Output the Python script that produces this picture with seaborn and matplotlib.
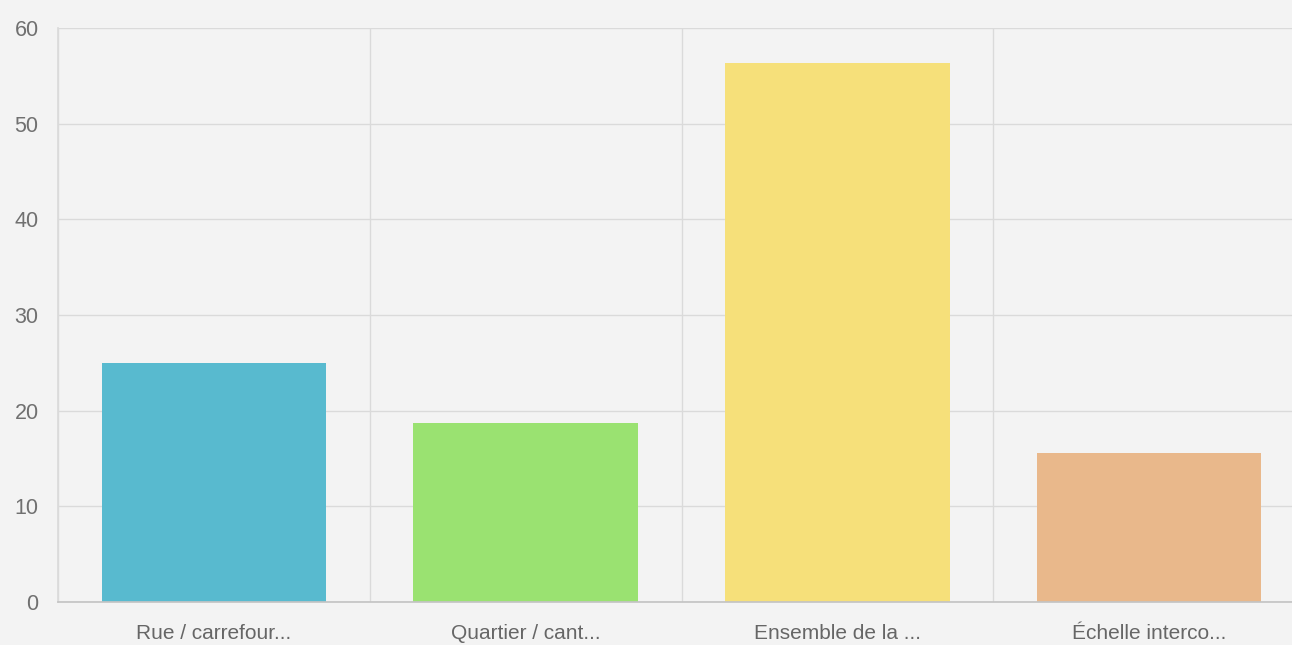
import matplotlib
matplotlib.use('Agg')
import matplotlib.pyplot as plt
import seaborn as sns
import pandas as pd
import numpy as np

# données
categories = ['Rue / carrefour...', 'Quartier / cant...', 'Ensemble de la ...', 'Échelle interco...']
valeurs = [25.0, 18.7, 56.3, 15.6]
couleurs = ['#58bacf', '#9ae271', '#f6e07a', '#e9b88b']
yticks = [0, 10, 20, 30, 40, 50, 60]

df = pd.DataFrame({'Categorie': categories, 'Valeur': valeurs})

sns.set_theme(style='white')
plt.rcParams['font.family'] = ['Liberation Sans', 'DejaVu Sans']

bg = '#f3f3f3'
grid = '#dadada'
txt = '#666666'

fig = plt.figure(figsize=(12.92, 6.45), dpi=100, facecolor=bg)
ax = fig.add_axes([58 / 1292, 43 / 645, (1305 - 58) / 1292, (602 - 28) / 645])
ax.set_facecolor(bg)

sns.barplot(data=df, x='Categorie', y='Valeur', hue='Categorie', palette=couleurs,
            width=0.72, saturation=1, legend=False, ax=ax, zorder=3, linewidth=0)

ax.set_xlim(-0.5, 3.5)
ax.set_ylim(0, 60)
ax.set_yticks(yticks)
ax.set_xlabel('')
ax.set_ylabel('')

# grilles
ax.set_xticks(np.arange(-0.5, 4, 1), minor=True)
ax.grid(True, axis='y', which='major', color=grid, linewidth=1, zorder=0)
ax.grid(True, axis='x', which='minor', color=grid, linewidth=1, zorder=0)
ax.tick_params(axis='x', which='major', length=0, pad=16, labelsize=15, labelcolor=txt)
ax.tick_params(axis='x', which='minor', length=11, width=1, color=grid, direction='out')
ax.tick_params(axis='y', which='major', length=9.5, width=1, color=grid, pad=4.5,
               labelsize=15.5, labelcolor='#707070')

for s in ['top', 'right']:
    ax.spines[s].set_visible(False)
ax.spines['left'].set_color(grid)
ax.spines['bottom'].set_color('#c4c4c4')
ax.spines['bottom'].set_zorder(4)

fig.savefig('out.png', dpi=100, facecolor=bg)
